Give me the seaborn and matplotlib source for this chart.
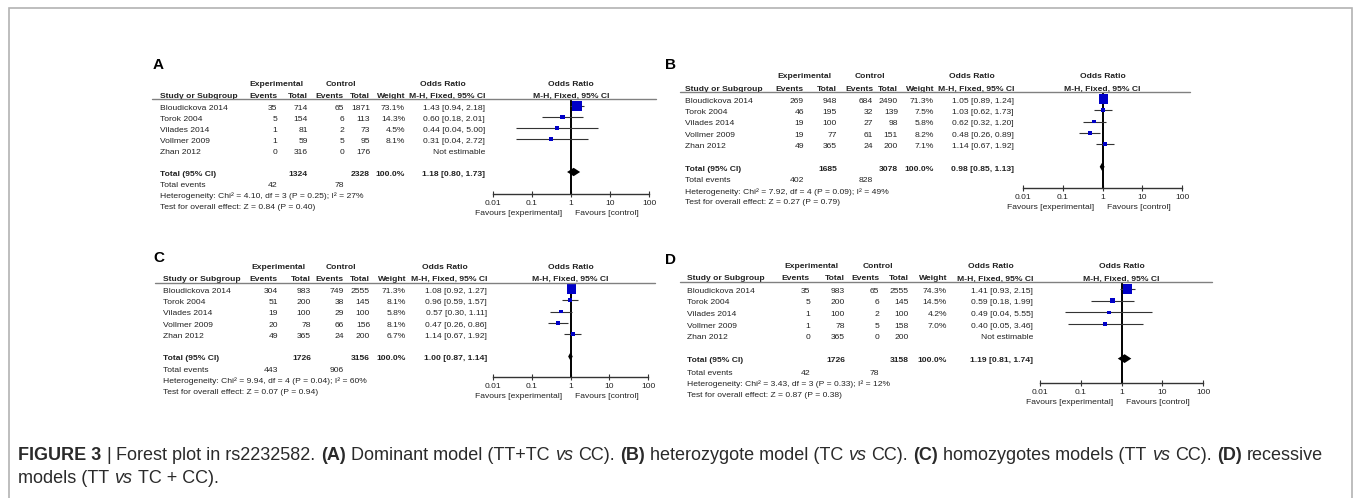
import numpy as np
import matplotlib
matplotlib.use("Agg")
import matplotlib.pyplot as plt
import matplotlib.transforms as mtransforms
from matplotlib.lines import Line2D
from matplotlib.patches import Rectangle
from matplotlib.ticker import NullLocator
import seaborn as sns

# data
studies = ["Bloudickova 2014", "Torok 2004", "Vilades 2014", "Vollmer 2009", "Zhan 2012"]

exp_events = {"A": [35, 5, 1, 1, 0], "B": [269, 46, 19, 19, 49],
              "C": [304, 51, 19, 20, 49], "D": [35, 5, 1, 1, 0]}
exp_total = {"A": [714, 154, 81, 59, 316], "B": [948, 195, 100, 77, 365],
             "C": [983, 200, 100, 78, 365], "D": [983, 200, 100, 78, 365]}
ctl_events = {"A": [65, 6, 2, 5, 0], "B": [684, 32, 27, 61, 24],
              "C": [749, 38, 29, 66, 24], "D": [65, 6, 2, 5, 0]}
ctl_total = {"A": [1871, 113, 73, 95, 176], "B": [2490, 139, 98, 151, 200],
             "C": [2555, 145, 100, 156, 200], "D": [2555, 145, 100, 158, 200]}
weight = {"A": [73.1, 14.3, 4.5, 8.1, np.nan], "B": [71.3, 7.5, 5.8, 8.2, 7.1],
          "C": [71.3, 8.1, 5.8, 8.1, 6.7], "D": [74.3, 14.5, 4.2, 7.0, np.nan]}
odds = {"A": [1.43, 0.60, 0.44, 0.31, np.nan], "B": [1.05, 1.03, 0.62, 0.48, 1.14],
        "C": [1.08, 0.96, 0.57, 0.47, 1.14], "D": [1.41, 0.59, 0.49, 0.40, np.nan]}
ci_low = {"A": [0.94, 0.18, 0.04, 0.04, np.nan], "B": [0.89, 0.62, 0.32, 0.26, 0.67],
          "C": [0.92, 0.59, 0.30, 0.26, 0.67], "D": [0.93, 0.18, 0.04, 0.05, np.nan]}
ci_high = {"A": [2.18, 2.01, 5.00, 2.72, np.nan], "B": [1.24, 1.73, 1.20, 0.89, 1.92],
           "C": [1.27, 1.57, 1.11, 0.86, 1.92], "D": [2.15, 1.99, 5.55, 3.46, np.nan]}
pooled = {"A": [1.18, 0.80, 1.73], "B": [0.98, 0.85, 1.13],
          "C": [1.00, 0.87, 1.14], "D": [1.19, 0.81, 1.74]}
# chi2, df, P, I2
heterogeneity = {"A": [4.10, 3, 0.25, 27], "B": [7.92, 4, 0.09, 49],
                 "C": [9.94, 4, 0.04, 60], "D": [3.43, 3, 0.33, 12]}
# Z, P
overall = {"A": [0.84, 0.40], "B": [0.27, 0.79], "C": [0.07, 0.94], "D": [0.87, 0.38]}

# layout in reference pixels
layout = {
    "A": dict(label=(153, 65), study=160, ev=277, tot=308, cev=344, ctot=370, w=405, orr=485,
              line=(152, 656), top=99, row0=106, pitch=11.0, axis=194, plot=(492.7, 649)),
    "B": dict(label=(665, 65), study=685, ev=804, tot=837, cev=873, ctot=898, w=934, orr=1014,
              line=(680, 1190), top=92, row0=99, pitch=11.3, axis=188, plot=(1023, 1182)),
    "C": dict(label=(153, 258), study=163, ev=278, tot=311, cev=344, ctot=370, w=406, orr=487,
              line=(155, 655), top=282.7, row0=289, pitch=11.25, axis=376.7, plot=(493, 648)),
    "D": dict(label=(665, 260), study=687, ev=810, tot=845, cev=879, ctot=909, w=947, orr=1033,
              line=(680, 1212), top=282, row0=289, pitch=11.6, axis=383, plot=(1040, 1203)),
}

sns.set_theme(style="white")
plt.rcParams["font.family"] = ["Liberation Sans", "DejaVu Sans"]

W, H = 1355, 498
fig = plt.figure(figsize=(W / 100, H / 100), dpi=100)


def fx(x):
    return x / W


def fy(y):
    return 1 - y / H


FS = 6.1
TXT = "#222222"

for k, lay in layout.items():
    top, row0, pitch, axis = lay["top"], lay["row0"], lay["pitch"], lay["axis"]
    p0, p1 = lay["plot"]
    ax = fig.add_axes([fx(p0), fy(axis), (p1 - p0) / W, (axis - top) / H])
    ax.set_xscale("log")
    ax.set_facecolor("none")

    rows = np.arange(len(studies))
    o = np.array(odds[k], float)
    lo = np.array(ci_low[k], float)
    hi = np.array(ci_high[k], float)
    w = np.array(weight[k], float)
    ok = ~np.isnan(o)

    ax.axvline(1, color="black", lw=1.4, zorder=1)
    ax.hlines(rows[ok], lo[ok], hi[ok], color="#333333", lw=0.8, zorder=2)
    sns.scatterplot(x=o[ok], y=rows[ok], size=w[ok], sizes=(3, 62), size_norm=(0, 100),
                    marker="s", color="#0000c8", linewidth=0, legend=False, ax=ax, zorder=3)
    po, pl, ph = pooled[k]
    trow = len(studies) + 1
    ax.fill([pl, po, ph, po], [trow, trow - 0.38, trow, trow + 0.38],
            color="black", lw=0, zorder=4)

    ax.set_xlim(0.01, 100)
    ax.set_ylim((axis - row0) / pitch, -(row0 - top) / pitch)
    ax.set_xlabel("")
    ax.set_ylabel("")
    ax.set_yticks([])
    ax.set_xticks([0.01, 0.1, 1, 10, 100])
    ax.set_xticklabels(["0.01", "0.1", "1", "10", "100"])
    ax.xaxis.set_minor_locator(NullLocator())
    ax.tick_params(axis="x", bottom=True, direction="inout", length=5, width=0.8,
                   color="#333333", pad=2, labelsize=FS, labelcolor=TXT)
    for s in ["top", "left", "right"]:
        ax.spines[s].set_visible(False)
    ax.spines["bottom"].set_color("#333333")
    ax.spines["bottom"].set_linewidth(1.0)

    ax.annotate("Favours [experimental]", xy=(1, 0), xycoords=ax.get_xaxis_transform(),
                xytext=(-6, -13.9), textcoords="offset points", ha="right", va="center",
                fontsize=FS, color=TXT)
    ax.annotate("Favours [control]", xy=(1, 0), xycoords=ax.get_xaxis_transform(),
                xytext=(3, -13.9), textcoords="offset points", ha="left", va="center",
                fontsize=FS, color=TXT)
    ax.text(1, -1.95, "Odds Ratio", ha="center", va="center", fontsize=FS,
            fontweight="bold", color=TXT)
    ax.text(1, -0.87, "M-H, Fixed, 95% CI", ha="center", va="center", fontsize=FS,
            fontweight="bold", color=TXT)

    # table part
    tr = mtransforms.blended_transform_factory(fig.transFigure, ax.transData)

    def put(xpx, row, s, ha="right", bold=False):
        ax.text(fx(xpx), row, s, transform=tr, ha=ha, va="center", fontsize=FS,
                fontweight="bold" if bold else "normal", color=TXT, clip_on=False)

    put((lay["ev"] + lay["tot"]) / 2 - 16, -1.95, "Experimental", ha="center", bold=True)
    put((lay["cev"] + lay["ctot"]) / 2 - 16, -1.95, "Control", ha="center", bold=True)
    put(lay["orr"] - 42, -1.95, "Odds Ratio", ha="center", bold=True)
    put(lay["study"], -0.87, "Study or Subgroup", ha="left", bold=True)
    put(lay["ev"], -0.87, "Events", bold=True)
    put(lay["tot"], -0.87, "Total", bold=True)
    put(lay["cev"], -0.87, "Events", bold=True)
    put(lay["ctot"], -0.87, "Total", bold=True)
    put(lay["w"], -0.87, "Weight", bold=True)
    put(lay["orr"], -0.87, "M-H, Fixed, 95% CI", bold=True)

    for i, name in enumerate(studies):
        r = rows[i] + 0.2
        put(lay["study"], r, name, ha="left")
        put(lay["ev"], r, str(exp_events[k][i]))
        put(lay["tot"], r, str(exp_total[k][i]))
        put(lay["cev"], r, str(ctl_events[k][i]))
        put(lay["ctot"], r, str(ctl_total[k][i]))
        if ok[i]:
            put(lay["w"], r, f"{w[i]:.1f}%")
            put(lay["orr"], r, f"{o[i]:.2f} [{lo[i]:.2f}, {hi[i]:.2f}]")
        else:
            put(lay["orr"], r, "Not estimable")

    r = trow + 0.2
    put(lay["study"], r, "Total (95% CI)", ha="left", bold=True)
    put(lay["tot"], r, str(sum(exp_total[k])), bold=True)
    put(lay["ctot"], r, str(sum(ctl_total[k])), bold=True)
    put(lay["w"], r, "100.0%", bold=True)
    put(lay["orr"], r, f"{po:.2f} [{pl:.2f}, {ph:.2f}]", bold=True)

    put(lay["study"], 7.25, "Total events", ha="left")
    put(lay["ev"], 7.25, str(sum(exp_events[k])))
    put(lay["cev"], 7.25, str(sum(ctl_events[k])))
    chi, df, p, i2 = heterogeneity[k]
    put(lay["study"], 8.2, f"Heterogeneity: Chi² = {chi:.2f}, df = {df} (P = {p:.2f}); I² = {i2}%",
        ha="left")
    z, pz = overall[k]
    put(lay["study"], 9.2, f"Test for overall effect: Z = {z:.2f} (P = {pz:.2f})", ha="left")

    l0, l1 = lay["line"]
    fig.add_artist(Line2D([fx(l0), fx(l1)], [fy(top), fy(top)], transform=fig.transFigure,
                          color="#808080", lw=1.0))
    lx, ly = lay["label"]
    fig.text(fx(lx), fy(ly), k, fontsize=11, fontweight="bold", ha="left", va="center",
             color="black")

# outer frame
fig.add_artist(Rectangle((fx(9), fy(510)), (1352 - 9) / W, (510 - 8) / H,
                         transform=fig.transFigure, fill=False, ec="#b3b3b3", lw=1.2))

# caption
bg = fig.add_axes([0, 0, 1, 1])
bg.axis("off")
bg.set_zorder(-1)
CFS = 13
CCOL = "#2a2a2a"
cap_lines = [
    [("FIGURE 3", "bold"), ("|", "normal"), ("Forest plot in rs2232582.", "normal"),
     ("(A)", "bold"), ("Dominant model (TT+TC", "normal"), ("vs", "italic"), ("CC).", "normal"),
     ("(B)", "bold"), ("heterozygote model (TC", "normal"), ("vs", "italic"), ("CC).", "normal"),
     ("(C)", "bold"), ("homozygotes models (TT", "normal"), ("vs", "italic"), ("CC).", "normal"),
     ("(D)", "bold"), ("recessive", "normal")],
    [("models (TT", "normal"), ("vs", "italic"), ("TC + CC).", "normal")],
]
gap = 0.29 * CFS
line_start = None
for li, pieces in enumerate(cap_lines):
    prev = None
    for j, (s, st) in enumerate(pieces):
        kw = dict(fontsize=CFS, color=CCOL, va="bottom", ha="left",
                  fontweight="bold" if st == "bold" else "normal",
                  fontstyle="italic" if st == "italic" else "normal")
        if prev is None and line_start is None:
            prev = bg.text(fx(18), fy(464), s, transform=bg.transAxes, **kw)
            line_start = prev
        elif prev is None:
            prev = bg.annotate(s, xy=(0, 0), xycoords=line_start, xytext=(0, -23 * 0.72),
                               textcoords="offset points", **kw)
        else:
            prev = bg.annotate(s, xy=(1, 0), xycoords=prev, xytext=(gap, 0),
                               textcoords="offset points", **kw)

fig.savefig("out.png", dpi=100)
